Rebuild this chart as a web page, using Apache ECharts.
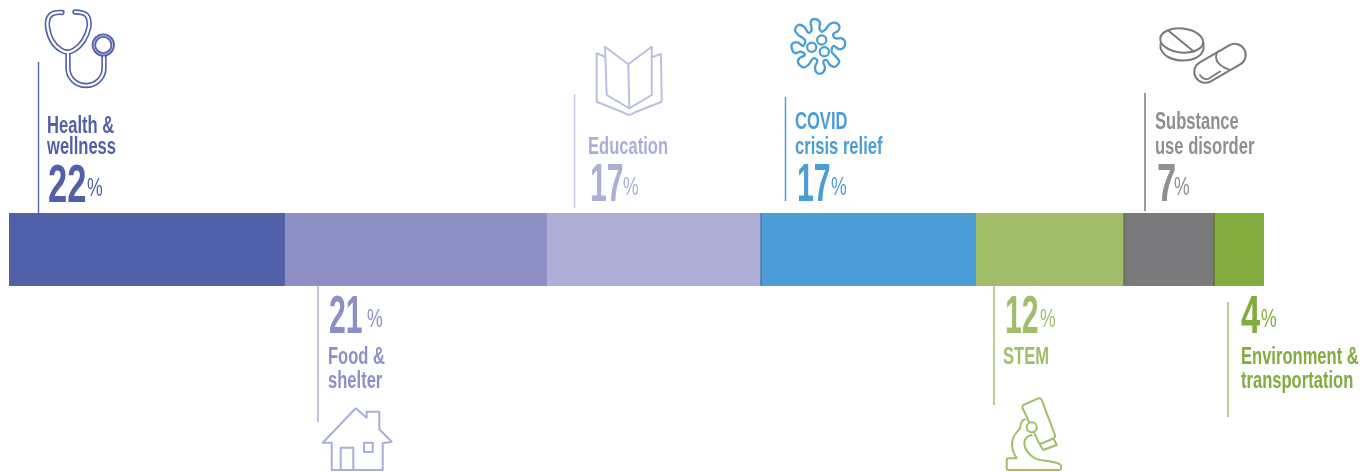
<!DOCTYPE html>
<html>
<head>
<meta charset="utf-8">
<title>Grants by focus area</title>
<style>
  html, body { margin: 0; padding: 0; background: #fff; }
  #chart { width: 1367px; height: 472px; }
</style>
<script src="https://cdn.jsdelivr.net/npm/echarts@6/dist/echarts.min.js"></script>
</head>
<body>
<div id="chart"></div>
<script>
  // data
  const categories = ['Health &\nwellness', 'Food &\nshelter', 'Education', 'COVID\ncrisis relief', 'STEM', 'Substance\nuse disorder', 'Environment &\ntransportation'];
  const percentLabels = ['22', '21', '17', '17', '12', '7', '4'];
  // bar lengths, measured (they round to the printed labels)
  const shares = [21.99, 20.88, 17.05, 17.13, 11.79, 7.17, 3.99];

  const barColors = ['#525fa9', '#8e8fc5', '#adaed6', '#4a9dd6', '#a2bd6a', '#7a7a7c', '#83ac3f'];
  const textColors = ['#525fa9', '#8e8fc5', '#adaed6', '#4a9dd6', '#a2bd6a', '#8f8f91', '#83ac3f'];
  const lineColors = ['#5f6cb5', '#a9aedb', '#c5c8e3', '#4a9dd6', '#a2bd6a', '#7a7a7c', '#a2bd6a'];

  const FONT = '"Liberation Sans Narrow", "Liberation Sans", sans-serif';

  // callout layout, same order as categories
  const callouts = [
    { line: [38.5, 62, 213], textX: 47, base: [134, 155], numX: 48, numBase: 205, pctX: 87, numScale: 0.64 },
    { line: [318, 286, 422], textX: 328, base: [365, 389], numX: 329, numBase: 336, pctX: 367, numScale: 0.56 },
    { line: [574.5, 94, 208], textX: 588, base: [155], numX: 590, numBase: 204, pctX: 623, numScale: 0.56 },
    { line: [785.5, 97, 201], textX: 795, base: [130, 155], numX: 797, numBase: 204, pctX: 831, numScale: 0.56 },
    { line: [994, 286, 405], textX: 1003, base: [365], numX: 1005, numBase: 336, pctX: 1040, numScale: 0.56 },
    { line: [1145, 93, 211], textX: 1155, base: [130, 155], numX: 1157, numBase: 204, pctX: 1174, numScale: 0.64 },
    { line: [1228, 302, 417], textX: 1241, base: [365, 389], numX: 1241, numBase: 336, pctX: 1261, numScale: 0.64 }
  ];

  function label(text, x, baseline, size, weight, sx, color) {
    return {
      type: 'text', x: x, y: baseline - size * 0.33, scaleX: sx, silent: true,
      style: { text: text, x: 0, y: 0, fill: color, font: weight + ' ' + size + 'px ' + FONT, verticalAlign: 'middle', align: 'left' }
    };
  }

  function ring(cx, cy, r, color, width, fill) {
    return { type: 'circle', silent: true, shape: { cx: cx, cy: cy, r: r }, style: { fill: fill || 'none', stroke: color, lineWidth: width } };
  }

  function segs(d, color, width) {
    return { type: 'path', silent: true, shape: { pathData: d }, style: { fill: 'none', stroke: color, lineWidth: width, lineCap: 'round', lineJoin: 'round' } };
  }

  // closed smooth curve through traced outline points
  function smoothClosed(pts) {
    const n = pts.length;
    let d = 'M' + pts[0][0] + ' ' + pts[0][1];
    for (let i = 0; i < n; i++) {
      const p0 = pts[(i - 1 + n) % n], p1 = pts[i], p2 = pts[(i + 1) % n], p3 = pts[(i + 2) % n];
      d += 'C' + (p1[0] + (p2[0] - p0[0]) / 6).toFixed(1) + ' ' + (p1[1] + (p2[1] - p0[1]) / 6).toFixed(1) + ' ' +
        (p2[0] - (p3[0] - p1[0]) / 6).toFixed(1) + ' ' + (p2[1] - (p3[1] - p1[1]) / 6).toFixed(1) + ' ' + p2[0] + ' ' + p2[1];
    }
    return d + 'Z';
  }

  const virusTrace = [[92, 40], [95, 30], [110, 28], [120, 38], [118, 55], [125, 65], [135, 60], [150, 42], [165, 38], [178, 48], [175, 62], [160, 72], [165, 85], [185, 85], [195, 95], [192, 112], [178, 118], [160, 108], [155, 125], [168, 140], [178, 155], [165, 170], [150, 165], [140, 150], [130, 155], [135, 175], [125, 190], [110, 188], [105, 172], [112, 152], [100, 145], [85, 165], [70, 172], [55, 160], [58, 145], [75, 135], [62, 125], [45, 130], [35, 115], [38, 100], [55, 98], [70, 108], [75, 90], [55, 75], [45, 60], [55, 45], [72, 50], [85, 68], [95, 60]];

  const stethoTube = 'M62 12.5C57 12 53 13 50.5 15C47.5 18 47 22 47.5 27C49 37 54 46 61 50C65 52.5 70 52.5 74 50C81 46 87 37 89 27C89.5 22 89 18 86.5 15C84 13 80 12 75 12M68 52V68C68 78 76 85.5 86 85.5C96 85.5 104 78 104 68V56';

  function iconElements() {
    const out = [];
    // stethoscope: thick stroke with white core gives the double line
    out.push(segs(stethoTube, barColors[0], 5.4));
    out.push(segs(stethoTube, '#fff', 2.2));
    out.push(ring(103.3, 45, 9.4, barColors[0], 4.4));
    out.push(ring(103.3, 45, 9.4, '#c5cae6', 1));
    // house
    out.push(segs('M322.7 442.7L355.7 408.3L366.7 417.7V411.7H379.3V429.3L391.7 441.7L382.7 443.3V470H331.7V442.7ZM340.7 470V447.7H353.3V470M364 442.7H372.7V452H364Z', lineColors[1], 2));
    // book
    out.push(segs('M605 46.7L628.3 64.3L651.7 46.7V95L629.3 108.3L606.7 95ZM628.3 64.3L629.3 108.3M605 56.7L596.7 53.3V101.7L624 112.7Q629.3 117 634 112.700L661.7 101.700L661 54L651.7 57.300', '#bcbfdf', 2));
    // virus
    out.push(segs(smoothClosed(virusTrace.map((p) => [+(780 + p[0] / 3).toFixed(1), +(10 + p[1] / 3).toFixed(1)])), barColors[3], 2.3));
    out.push(ring(821.7, 40, 4.6, barColors[3], 2.2));
    out.push(ring(811.7, 47.3, 4.6, barColors[3], 2.2));
    out.push(ring(824.3, 51.7, 4.6, barColors[3], 2.2));
    // microscope
    const m = lineColors[4];
    out.push(segs('M1023.3 405L1038.3 398.3Q1041 398 1041.7 400L1055 435Q1055.5 437.5 1053.3 438.5L1041.7 443.5Q1039 444 1038.3 441.700L1022.5 408Q1022 406 1023.3 405ZM1040 445L1043.3 450L1056.7 445L1054.3 440', m, 2));
    out.push(ring(1031.7, 427.3, 5, m, 2, '#fff'));
    out.push(segs('M1025 419.3Q1021 420 1020 428.3C1018 432 1014 433 1012.500 440C1011 447 1013 453 1016.700 458.300H1008.300Q1006.700 458.300 1006.700 460V468.300Q1006.700 470 1008.300 470H1059Q1061.500 470 1061 465.500C1060 463 1056 462.500 1051.700 461.700C1045 460.500 1040 460.500 1035 458.300C1029 455 1024.300 449 1024.300 443.300C1024.300 439 1027 436 1031.700 435', m, 2));
    // pills
    const g = barColors[5];
    out.push({ type: 'ellipse', silent: true, x: 1181.7, y: 40.5, rotation: -0.1, shape: { cx: 0, cy: 0, rx: 21.5, ry: 12 }, style: { fill: 'none', stroke: g, lineWidth: 2 } });
    out.push(segs('M1168.5 30.7L1194 51.7M1160.5 44V48C1163 56 1172 60.5 1183 60.5C1194 60.5 1202 56 1203.5 49V43', g, 2));
    out.push({ type: 'rect', silent: true, x: 1220, y: 63.3, rotation: Math.PI / 6, shape: { x: -28, y: -11, width: 56, height: 22, r: 11 }, style: { fill: 'none', stroke: g, lineWidth: 2 } });
    out.push(segs('M1216.7 53.3Q1213 64 1230 70M1200 75Q1204 81 1209 78.5L1220 71.5', g, 1.8));
    return out;
  }

  const chart = echarts.init(document.getElementById('chart'), null, { renderer: 'canvas' });

  const barSeries = categories.map((name, i) => ({
    name: name.replace('\n', ' '),
    type: 'bar',
    stack: 'total',
    barWidth: '100%',
    silent: true,
    itemStyle: { color: barColors[i] },
    data: [shares[i]]
  }));

  // the line icons, custom series because graphic has no svg path type
  const iconSeries = {
    type: 'custom',
    coordinateSystem: 'none',
    silent: true,
    clip: false,
    data: [0],
    renderItem: () => ({ type: 'group', children: iconElements() })
  };

  chart.setOption({
    animation: false,
    backgroundColor: '#fff',
    grid: { left: 9, top: 213, width: 1255, height: 73 },
    xAxis: { type: 'value', min: 0, max: 100, show: false },
    yAxis: { type: 'category', data: ['share'], show: false },
    series: barSeries.concat(iconSeries)
  });

  // thin dark seams on the left of COVID, substance and environment blocks
  const seamAt = (i) => chart.convertToPixel({ xAxisIndex: 0 }, shares.slice(0, i).reduce((a, b) => a + b, 0));
  const seams = [[3, '#2f62a5'], [5, '#58603f'], [6, '#4c5c33']].map(([i, color]) => ({
    type: 'rect', silent: true, z: 10, shape: { x: Math.round(seamAt(i)) - 0.5, y: 213, width: 1, height: 73 }, style: { fill: color }
  }));

  const graphics = [];
  categories.forEach((name, i) => {
    const c = callouts[i];
    graphics.push({ type: 'line', silent: true, shape: { x1: c.line[0], y1: c.line[1], x2: c.line[0], y2: c.line[2] }, style: { stroke: lineColors[i], lineWidth: 1.5 } });
    name.split('\n').forEach((t, k) => {
      graphics.push(label(t, c.textX, c.base[k], 23, 'bold', 0.72, textColors[i]));
    });
    graphics.push(label(percentLabels[i], c.numX, c.numBase, 54, 'bold', c.numScale, textColors[i]));
    graphics.push(label('%', c.pctX, c.numBase - 8, 26, 'normal', 0.68, textColors[i]));
  });

  chart.setOption({ graphic: { elements: seams.concat(graphics) } });
</script>
</body>
</html>
